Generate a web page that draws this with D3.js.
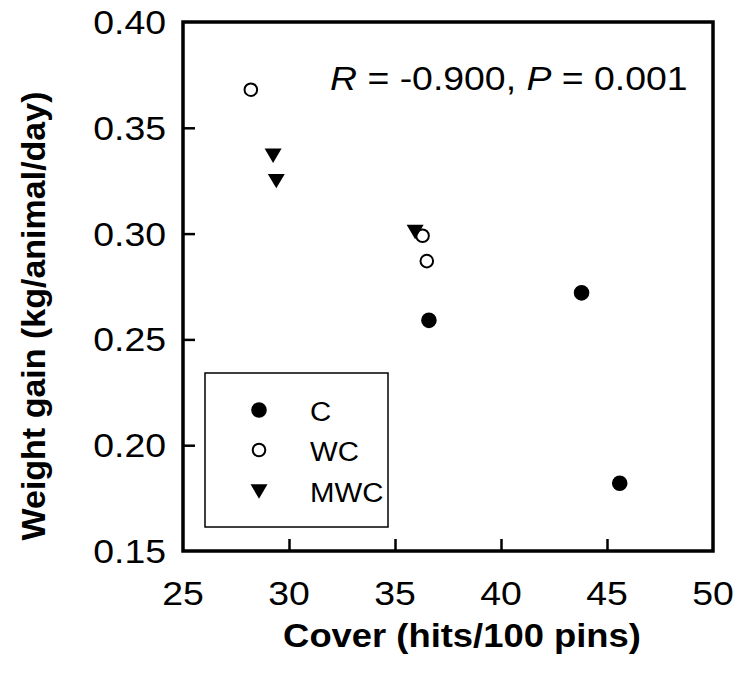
<!DOCTYPE html>
<html>
<head>
<meta charset="utf-8">
<script src="https://cdn.jsdelivr.net/npm/d3@7/dist/d3.min.js"></script>
<style>
  body { margin: 0; background: #fff; }
  svg text { font-family: "Liberation Sans", Arial, sans-serif; fill: #000; }
</style>
</head>
<body>
<svg id="chart"></svg>
<script>
// data
const groups = ['C', 'WC', 'MWC'];
const coverC = [36.6, 43.8, 45.6];
const gainC = [0.259, 0.272, 0.182];
const coverWC = [28.2, 36.3, 36.5];
const gainWC = [0.368, 0.299, 0.287];
const coverMWC = [29.25, 29.4, 35.95];
const gainMWC = [0.337, 0.325, 0.301];
const xTicks = [25, 30, 35, 40, 45, 50];
const yTicks = [0.15, 0.20, 0.25, 0.30, 0.35, 0.40];
const statText = ['R', ' = -0.900, ', 'P', ' = 0.001'];

const W = 735, H = 681;
const plot = {left: 183, right: 713, top: 22, bottom: 551};

const svg = d3.select('#chart')
    .attr('width', W)
    .attr('height', H);

const x = d3.scaleLinear().domain([25, 50]).range([plot.left, plot.right]);
const y = d3.scaleLinear().domain([0.15, 0.40]).range([plot.bottom, plot.top]);

// downward triangle
const triDown = {
    draw(ctx, size) {
        const w = Math.sqrt(size);
        ctx.moveTo(-w / 2, -w * 0.4);
        ctx.lineTo(w / 2, -w * 0.4);
        ctx.lineTo(0, w * 0.45);
        ctx.closePath();
    }
};

const styles = {
    C: {type: d3.symbolCircle, size: Math.PI * 7.8 * 7.8, fill: '#000', stroke: 'none', sw: 0},
    WC: {type: d3.symbolCircle, size: Math.PI * 6.3 * 6.3, fill: '#fff', stroke: '#000', sw: 2},
    MWC: {type: triDown, size: 17 * 17, fill: '#000', stroke: 'none', sw: 0}
};

const series = [
    {name: 'C', xs: coverC, ys: gainC},
    {name: 'WC', xs: coverWC, ys: gainWC},
    {name: 'MWC', xs: coverMWC, ys: gainMWC}
];

// axes (ticks inward, labels drawn separately)
const xAxis = d3.axisBottom(x)
    .tickValues(xTicks.slice(1, -1))
    .tickSize(-12)
    .tickFormat('');
const yAxis = d3.axisLeft(y)
    .tickValues(yTicks.slice(1, -1))
    .tickSize(-12)
    .tickFormat('');

const gx = svg.append('g')
    .attr('transform', 'translate(0,' + plot.bottom + ')')
    .call(xAxis);
const gy = svg.append('g')
    .attr('transform', 'translate(' + plot.left + ',0)')
    .call(yAxis);
[gx, gy].forEach(g => {
    g.select('.domain').remove();
    g.selectAll('line').attr('stroke', '#000').attr('stroke-width', 2.5);
});

// frame
svg.append('rect')
    .attr('x', plot.left)
    .attr('y', plot.top)
    .attr('width', plot.right - plot.left)
    .attr('height', plot.bottom - plot.top)
    .attr('fill', 'none')
    .attr('stroke', '#000')
    .attr('stroke-width', 3.5);

// tick labels (slightly wide, like the original)
svg.append('g').selectAll('text')
    .data(xTicks)
    .join('text')
    .attr('transform', d => 'translate(' + x(d) + ',605) scale(1.1,1)')
    .attr('text-anchor', 'middle')
    .style('font-size', '34px')
    .text(d => d);

svg.append('g').selectAll('text')
    .data(yTicks)
    .join('text')
    .attr('transform', d => 'translate(166,' + (y(d) + 12) + ') scale(1.1,1)')
    .attr('text-anchor', 'end')
    .style('font-size', '34px')
    .text(d => d3.format('.2f')(d));

// axis titles
svg.append('text')
    .attr('transform', 'translate(462,647) scale(1.07,1)')
    .attr('text-anchor', 'middle')
    .style('font-size', '34px')
    .style('font-weight', 'bold')
    .text('Cover (hits/100 pins)');

svg.append('text')
    .attr('transform', 'translate(45,316) rotate(-90)')
    .attr('text-anchor', 'middle')
    .style('font-size', '34px')
    .style('font-weight', 'bold')
    .text('Weight gain (kg/animal/day)');

// statistics
const stat = svg.append('text')
    .attr('transform', 'translate(330,90) scale(1.1,1)')
    .style('font-size', '34px');
stat.selectAll('tspan')
    .data(statText)
    .join('tspan')
    .style('font-style', (d, i) => i % 2 === 0 ? 'italic' : 'normal')
    .text(d => d);

// points
const symbol = d3.symbol();
series.forEach(s => {
    const st = styles[s.name];
    svg.append('g').selectAll('path')
        .data(s.xs.map((v, i) => [v, s.ys[i]]))
        .join('path')
        .attr('transform', d => 'translate(' + x(d[0]) + ',' + y(d[1]) + ')')
        .attr('d', symbol.type(st.type).size(st.size)())
        .attr('fill', st.fill)
        .attr('stroke', st.stroke)
        .attr('stroke-width', st.sw);
});

// legend
const legend = svg.append('g');
legend.append('rect')
    .attr('x', 205)
    .attr('y', 373)
    .attr('width', 183)
    .attr('height', 154)
    .attr('fill', '#fff')
    .attr('stroke', '#000')
    .attr('stroke-width', 1.5);

const legendY = [410, 450, 491];
groups.forEach((g, i) => {
    const st = styles[g];
    legend.append('path')
        .attr('transform', 'translate(259,' + legendY[i] + ')')
        .attr('d', symbol.type(st.type).size(st.size)())
        .attr('fill', st.fill)
        .attr('stroke', st.stroke)
        .attr('stroke-width', st.sw);
    legend.append('text')
        .attr('transform', 'translate(310,' + (legendY[i] + 11) + ') scale(1.05,1)')
        .style('font-size', '28px')
        .text(g);
});
</script>
</body>
</html>
